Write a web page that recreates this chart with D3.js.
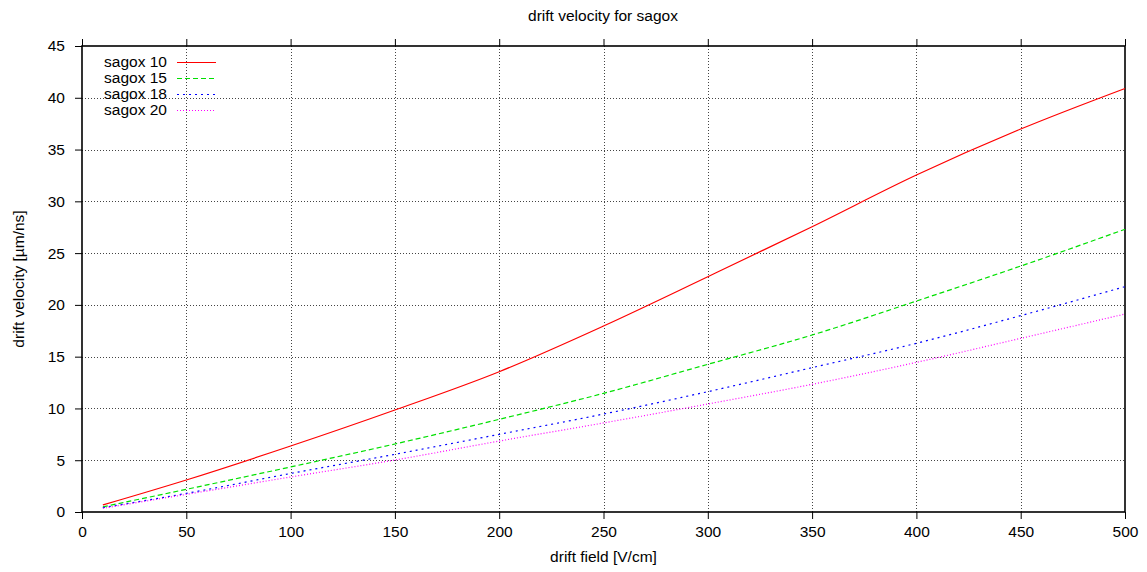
<!DOCTYPE html>
<html>
<head>
<meta charset="utf-8">
<script src="https://cdn.jsdelivr.net/npm/d3@7/dist/d3.min.js"></script>
<style>
  body { margin: 0; background: #fff; }
  text { font-family: "Liberation Sans", Arial, sans-serif; fill: #000; }
</style>
</head>
<body>
<div id="chart"></div>
<script>
// drift field values [V/cm]
const fields = [10, 50, 100, 150, 200, 250, 300, 350, 400, 450, 500];

// drift velocity [um/ns] per mixture
const sagox10 = [0.68, 3.09, 6.37, 9.85, 13.55, 17.96, 22.72, 27.55, 32.54, 36.98, 40.9];
const sagox15 = [0.5, 2.19, 4.35, 6.57, 8.95, 11.46, 14.26, 17.09, 20.37, 23.75, 27.3];
const sagox18 = [0.42, 1.8, 3.72, 5.57, 7.5, 9.46, 11.62, 13.94, 16.29, 18.96, 21.76];
const sagox20 = [0.36, 1.7, 3.38, 5.02, 6.85, 8.6, 10.43, 12.33, 14.45, 16.77, 19.12];

const seriesNames = ["sagox 10", "sagox 15", "sagox 18", "sagox 20"];
const seriesValues = [sagox10, sagox15, sagox18, sagox20];
const seriesColors = ["#ff0000", "#00e000", "#0000ff", "#ff00ff"];
const seriesDash = [null, "5,3", "2,4", "1,2"];

const xTicks = [0, 50, 100, 150, 200, 250, 300, 350, 400, 450, 500];
const yTicks = [0, 5, 10, 15, 20, 25, 30, 35, 40, 45];

const width = 1147, height = 572;
const margin = {top: 46, right: 22, bottom: 60, left: 82};
const fontSize = 15.5;

const svg = d3.select("#chart").append("svg")
  .attr("width", width)
  .attr("height", height);

const x = d3.scaleLinear().domain([0, 500]).range([margin.left, width - margin.right]);
const y = d3.scaleLinear().domain([0, 45]).range([height - margin.bottom, margin.top]);

// grid
const grid = svg.append("g")
  .attr("stroke", "#444")
  .attr("stroke-width", 1)
  .attr("stroke-dasharray", "1,2");

grid.selectAll(".gx")
  .data(xTicks.slice(1, -1))
  .enter().append("line")
    .attr("x1", d => Math.round(x(d)) + 0.5).attr("x2", d => Math.round(x(d)) + 0.5)
    .attr("y1", y(0)).attr("y2", y(45));

grid.selectAll(".gy")
  .data(yTicks.slice(1, -1))
  .enter().append("line")
    .attr("y1", d => Math.round(y(d)) + 0.5).attr("y2", d => Math.round(y(d)) + 0.5)
    .attr("x1", x(0)).attr("x2", x(500));

// axes
const xBottom = svg.append("g")
  .attr("transform", "translate(0," + y(0) + ")")
  .call(d3.axisBottom(x).tickValues(xTicks).tickSize(7).tickPadding(5));
const xTop = svg.append("g")
  .attr("transform", "translate(0," + y(45) + ")")
  .call(d3.axisTop(x).tickValues(xTicks).tickSize(7).tickFormat(""));
const yLeft = svg.append("g")
  .attr("transform", "translate(" + x(0) + ",0)")
  .call(d3.axisLeft(y).tickValues(yTicks).tickSize(7).tickPadding(10));

[xBottom, xTop, yLeft].forEach(g => {
  g.select(".domain").remove();
  g.selectAll("line").attr("stroke", "#000").attr("stroke-width", 1);
  g.selectAll("text").attr("font-size", fontSize).attr("font-family", "Liberation Sans, Arial, sans-serif").attr("fill", "#000");
});
xBottom.selectAll("text").attr("dy", "0.85em");

// border
svg.append("rect")
  .attr("x", x(0)).attr("y", y(45))
  .attr("width", x(500) - x(0)).attr("height", y(0) - y(45))
  .attr("fill", "none")
  .attr("stroke", "#000")
  .attr("stroke-width", 1.6);

// lines
const line = d3.line()
  .x(d => x(d[0]))
  .y(d => y(d[1]))
  .curve(d3.curveMonotoneX);

seriesValues.forEach((vals, i) => {
  svg.append("path")
    .datum(fields.map((f, j) => [f, vals[j]]))
    .attr("fill", "none")
    .attr("stroke", seriesColors[i])
    .attr("stroke-width", 1.2)
    .attr("stroke-dasharray", seriesDash[i])
    .attr("d", line);
});

// legend
const legend = svg.append("g");
seriesNames.forEach((name, i) => {
  const ly = 62 + i * 16;
  legend.append("text")
    .attr("x", 167).attr("y", ly)
    .attr("dy", "0.35em")
    .attr("text-anchor", "end")
    .attr("font-size", fontSize)
    .text(name);
  legend.append("line")
    .attr("x1", 177).attr("x2", 216)
    .attr("y1", ly + 0.5).attr("y2", ly + 0.5)
    .attr("stroke", seriesColors[i])
    .attr("stroke-width", 1.2)
    .attr("stroke-dasharray", seriesDash[i]);
});

// titles
svg.append("text")
  .attr("x", 603).attr("y", 16)
  .attr("dy", "0.35em")
  .attr("text-anchor", "middle")
  .attr("font-size", fontSize)
  .text("drift velocity for sagox");

svg.append("text")
  .attr("x", (x(0) + x(500)) / 2).attr("y", 557)
  .attr("dy", "0.35em")
  .attr("text-anchor", "middle")
  .attr("font-size", fontSize)
  .text("drift field [V/cm]");

svg.append("text")
  .attr("transform", "translate(19," + (y(0) + y(45)) / 2 + ") rotate(-90)")
  .attr("dy", "0.35em")
  .attr("text-anchor", "middle")
  .attr("font-size", fontSize)
  .text("drift velocity [µm/ns]");
</script>
</body>
</html>
